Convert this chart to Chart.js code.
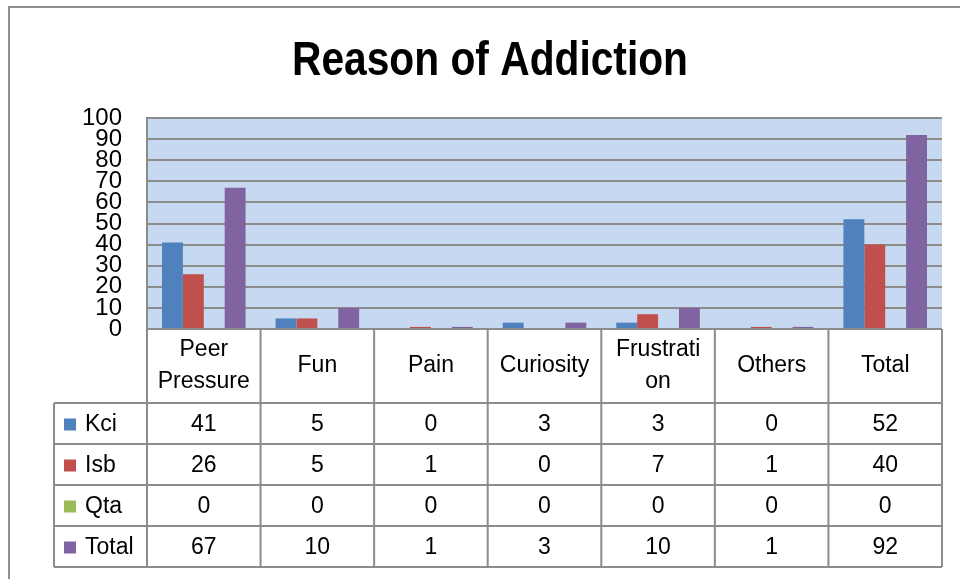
<!DOCTYPE html>
<html>
<head>
<meta charset="utf-8">
<script src="https://cdn.jsdelivr.net/npm/chart.js@4/dist/chart.umd.min.js"></script>
<style>
  html, body { margin: 0; padding: 0; background: #fff; }
  #wrap { width: 960px; height: 579px; }
</style>
</head>
<body>
<div id="wrap"><canvas id="addictionChart"></canvas></div>
<script>
// categories (as wrapped in the data table header)
const categories = [["Peer", "Pressure"], "Fun", "Pain", "Curiosity", ["Frustrati", "on"], "Others", "Total"];
const kci = [41, 5, 0, 3, 3, 0, 52];
const isb = [26, 5, 1, 0, 7, 1, 40];
const qta = [0, 0, 0, 0, 0, 0, 0];
const total = [67, 10, 1, 3, 10, 1, 92];
const yTicks = [0, 10, 20, 30, 40, 50, 60, 70, 80, 90, 100];
const chartTitle = 'Reason of Addiction';

const lineGray = '#8c8c8c';
const bodyFont = '"Liberation Sans", Arial, sans-serif';

// light blue plot background
const plotBg = {
  id: 'plotBg',
  beforeDraw(chart) {
    const { ctx, chartArea: a } = chart;
    ctx.save();
    ctx.fillStyle = '#c6d9f1';
    ctx.fillRect(a.left, a.top, a.right - a.left, a.bottom - a.top);
    ctx.restore();
  }
};

// narrow bold title, squeezed like the original
const narrowTitle = {
  id: 'narrowTitle',
  afterDraw(chart) {
    const ctx = chart.ctx;
    ctx.save();
    ctx.font = 'bold 48px ' + bodyFont;
    ctx.fillStyle = '#000';
    ctx.textAlign = 'center';
    ctx.textBaseline = 'alphabetic';
    const wanted = 396;
    const sx = wanted / ctx.measureText(chartTitle).width;
    ctx.translate(490, 75);
    ctx.scale(sx, 1);
    ctx.fillText(chartTitle, 0, 0);
    ctx.restore();
  }
};

// data table under the plot + outer frame
const dataTable = {
  id: 'dataTable',
  afterDraw(chart) {
    const { ctx, chartArea: a } = chart;
    const n = chart.data.labels.length;
    const w = (a.right - a.left) / n;
    const headTop = a.bottom, headH = 74, rowH = 41;
    const rowsTop = headTop + headH;
    const sets = chart.data.datasets;
    const tableBottom = rowsTop + rowH * sets.length;
    const labelLeft = 54;

    ctx.save();
    ctx.strokeStyle = lineGray;
    ctx.lineWidth = 2;
    ctx.beginPath();
    ctx.moveTo(a.left, headTop); ctx.lineTo(a.right, headTop);
    for (let r = 0; r <= sets.length; r++) {
      const y = rowsTop + r * rowH;
      ctx.moveTo(labelLeft, y); ctx.lineTo(a.right, y);
    }
    for (let i = 0; i <= n; i++) {
      const x = a.left + i * w;
      ctx.moveTo(x, headTop); ctx.lineTo(x, tableBottom);
    }
    ctx.moveTo(labelLeft, rowsTop); ctx.lineTo(labelLeft, tableBottom);
    ctx.stroke();

    ctx.fillStyle = '#000';
    ctx.font = '23px ' + bodyFont;
    ctx.textAlign = 'center';
    ctx.textBaseline = 'middle';
    chart.data.labels.forEach((lab, i) => {
      const cx = a.left + (i + 0.5) * w;
      const lines = Array.isArray(lab) ? lab : [lab];
      const cy = headTop + headH / 2;
      lines.forEach((t, k) => {
        ctx.fillText(t, cx, cy + (k - (lines.length - 1) / 2) * 32);
      });
    });

    sets.forEach((ds, r) => {
      const cy = rowsTop + r * rowH + rowH / 2 + 1;
      ctx.fillStyle = ds.backgroundColor;
      ctx.fillRect(64, cy - 6, 12, 12);
      ctx.fillStyle = '#000';
      ctx.textAlign = 'left';
      ctx.fillText(ds.label, 85, cy);
      ctx.textAlign = 'center';
      ds.data.forEach((v, i) => {
        ctx.fillText(String(v), a.left + (i + 0.5) * w, cy);
      });
    });

    // outer chart frame
    ctx.strokeStyle = '#8f8f8f';
    ctx.lineWidth = 2;
    ctx.strokeRect(9, 7, 980, 600);
    ctx.restore();
  }
};

new Chart(document.getElementById('addictionChart'), {
  type: 'bar',
  data: {
    labels: categories,
    datasets: [
      { label: 'Kci', data: kci, backgroundColor: '#4f81bd' },
      { label: 'Isb', data: isb, backgroundColor: '#c0504d' },
      { label: 'Qta', data: qta, backgroundColor: '#9bbb59' },
      { label: 'Total', data: total, backgroundColor: '#8064a2' }
    ]
  },
  options: {
    responsive: true,
    maintainAspectRatio: false,
    animation: false,
    datasets: { bar: { categoryPercentage: 0.736, barPercentage: 1 } },
    layout: { padding: { left: 38, right: 18, top: 118, bottom: 250 } },
    plugins: {
      legend: { display: false },
      tooltip: { enabled: false },
      title: { display: false }
    },
    scales: {
      x: {
        grid: { display: false },
        border: { display: false },
        ticks: { display: false },
        afterFit(axis) { axis.height = 0; }
      },
      y: {
        min: 0,
        max: 100,
        afterBuildTicks(axis) { axis.ticks = yTicks.map(v => ({ value: v })); },
        afterFit(axis) { axis.width = 109; },
        grid: { color: lineGray, lineWidth: 2, drawTicks: false },
        border: { display: true, color: lineGray, width: 2 },
        ticks: {
          autoSkip: false,
          color: '#000',
          padding: 25,
          font: { family: bodyFont, size: 24, lineHeight: 0.8 }
        }
      }
    }
  },
  plugins: [plotBg, narrowTitle, dataTable]
});
</script>
</body>
</html>
